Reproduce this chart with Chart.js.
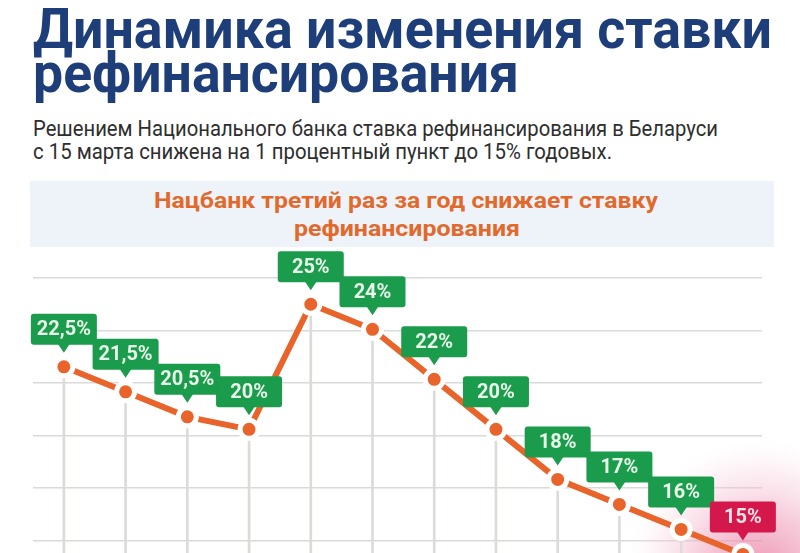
<!DOCTYPE html>
<html lang="ru">
<head>
<meta charset="utf-8">
<title>Динамика изменения ставки рефинансирования</title>
<script src="https://cdn.jsdelivr.net/npm/chart.js@4/dist/chart.umd.min.js"></script>
<style>
  html, body {
    margin: 0;
    padding: 0;
    width: 800px;
    height: 553px;
    overflow: hidden;
    background: #ffffff;
    font-family: Roboto, "Noto Sans", sans-serif;
  }
  .txt {
    position: absolute;
    white-space: nowrap;
    line-height: 1;
    transform-origin: 0 0;
  }
  .title { font-size: 56px; font-weight: 700; color: #1d3e79; }
  .sub { font-size: 22px; font-weight: 400; color: #2e2e2e; }
  .banner-txt { font-size: 22px; font-weight: 700; color: #e2692c; }
  #banner {
    position: absolute;
    left: 30px;
    top: 181px;
    width: 744px;
    height: 66px;
    background: #eef3fa;
  }
  #rate-chart {
    position: absolute;
    left: 0;
    top: 240px;
  }
</style>
</head>
<body>
<div class="txt title" style="left:33px; top:1px" data-w="739">Динамика изменения ставки</div>
<div class="txt title" style="left:33px; top:45px" data-w="486">рефинансирования</div>
<div class="txt sub" style="left:33px; top:118px" data-w="685">Решением Национального банка ставка рефинансирования в Беларуси</div>
<div class="txt sub" style="left:33px; top:141px" data-w="579">с 15 марта снижена на 1 процентный пункт до 15% годовых.</div>
<div id="banner"></div>
<div class="txt banner-txt" style="left:154px; top:190px" data-w="504">Нацбанк третий раз за год снижает ставку</div>
<div class="txt banner-txt" style="left:294px; top:218px" data-w="226">рефинансирования</div>
<canvas id="rate-chart" width="800" height="385"></canvas>

<script>
// Refinancing rate values, in order (last one is the new rate)
const rates = [22.5, 21.5, 20.5, 20, 25, 24, 22, 20, 18, 17, 16, 15];
// Decorative horizontal grid positions (in rate units)
const gridTicks = [26.05, 23.95, 21.85, 19.75, 17.65, 15.55, 13.45];

const points = rates.map((v, i) => ({ x: i, y: v }));

// Stretch each text line to the width it has in the picture
function fitText() {
  document.querySelectorAll('.txt').forEach(el => {
    const target = +el.dataset.w;
    const actual = el.getBoundingClientRect().width;
    if (actual > 0) el.style.transform = `scaleX(${target / actual})`;
  });
}

/**
 * Pink glow behind the last (current) point
 */
const glowPlugin = {
  id: 'glow',
  beforeDatasetsDraw(chart) {
    const meta = chart.getDatasetMeta(1);
    const last = meta.data[meta.data.length - 1];
    if (!last) return;
    const ctx = chart.ctx;
    const cx = last.x + 18;
    const cy = last.y + 20;
    const r = 135;
    const g = ctx.createRadialGradient(cx, cy, 0, cx, cy, r);
    g.addColorStop(0, 'rgba(232, 110, 150, 0.75)');
    g.addColorStop(0.45, 'rgba(240, 160, 188, 0.55)');
    g.addColorStop(0.75, 'rgba(247, 205, 220, 0.35)');
    g.addColorStop(1, 'rgba(252, 232, 239, 0)');
    ctx.save();
    ctx.fillStyle = g;
    ctx.beginPath();
    ctx.arc(cx, cy, r, 0, Math.PI * 2);
    ctx.fill();
    ctx.restore();
  }
};

/**
 * Value call-outs above each point
 */
const calloutPlugin = {
  id: 'callouts',
  afterDatasetsDraw(chart) {
    const meta = chart.getDatasetMeta(1);
    const ctx = chart.ctx;
    const boxW = 66;
    const boxH = 31;
    ctx.save();
    meta.data.forEach((pt, i) => {
      const isLast = i === rates.length - 1;
      const bottom = pt.y - 22;
      const left = pt.x - boxW / 2;
      ctx.fillStyle = isLast ? '#d5184b' : '#1b9b4c';
      ctx.beginPath();
      ctx.roundRect(left, bottom - boxH, boxW, boxH, 3);
      ctx.fill();
      // pointer
      ctx.beginPath();
      ctx.moveTo(pt.x - 6, bottom - 1);
      ctx.lineTo(pt.x + 6, bottom - 1);
      ctx.lineTo(pt.x, bottom + 8);
      ctx.closePath();
      ctx.fill();
      // text
      ctx.fillStyle = isLast ? '#fbe3ea' : '#e8faea';
      ctx.font = 'bold 20px Roboto, sans-serif';
      ctx.textAlign = 'center';
      ctx.textBaseline = 'middle';
      const label = String(rates[i]).replace('.', ',') + '%';
      ctx.fillText(label, pt.x, bottom - boxH / 2 + 1);
    });
    ctx.restore();
  }
};

function createRateChart() {
  const ctx = document.getElementById('rate-chart').getContext('2d');

  return new Chart(ctx, {
    type: 'line',
    data: {
      datasets: [
        {
          // thin drop lines from each point to the bottom
          type: 'bar',
          data: points,
          backgroundColor: '#dedad7',
          barThickness: 2,
          order: 2
        },
        {
          type: 'line',
          data: points,
          borderColor: '#e8642a',
          borderWidth: 6,
          pointRadius: 9,
          pointHoverRadius: 9,
          pointBackgroundColor: '#e8642a',
          pointBorderColor: '#ffffff',
          pointBorderWidth: 5,
          tension: 0,
          order: 1
        }
      ]
    },
    options: {
      responsive: false,
      animation: false,
      layout: {
        padding: { top: 38, left: 33, right: 38, bottom: 0 }
      },
      plugins: {
        legend: { display: false },
        tooltip: { enabled: false }
      },
      scales: {
        x: {
          type: 'linear',
          display: false,
          offset: false,
          min: -0.5,
          max: 11.31
        },
        y: {
          min: 12.74,
          max: 26.05,
          afterBuildTicks(scale) {
            scale.ticks = gridTicks.map(v => ({ value: v }));
          },
          ticks: { display: false },
          border: { display: false },
          grid: {
            color: '#dadada',
            lineWidth: 1.5,
            drawTicks: false
          }
        }
      }
    },
    plugins: [glowPlugin, calloutPlugin]
  });
}

fitText();
createRateChart();
</script>
</body>
</html>
